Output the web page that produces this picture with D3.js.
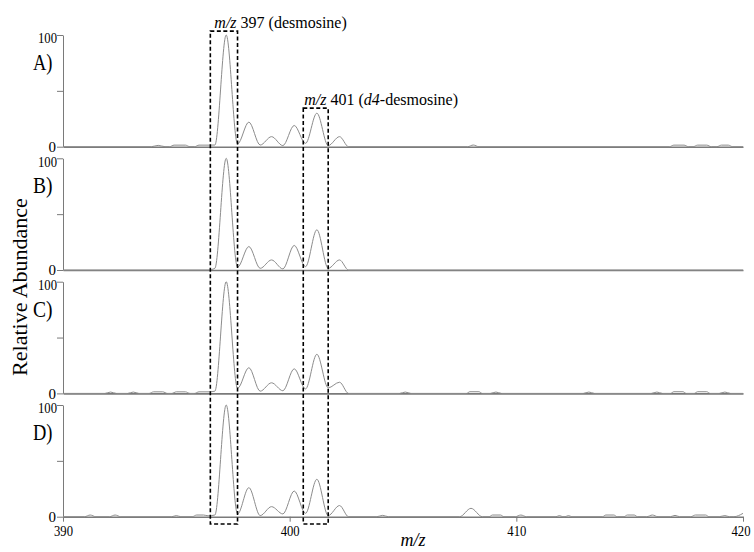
<!DOCTYPE html>
<html>
<head>
<meta charset="utf-8">
<script src="https://cdn.jsdelivr.net/npm/d3@7"></script>
<style>
  body { margin: 0; background: #fff; }
  svg text { font-family: "Liberation Serif", "Times New Roman", serif; }
</style>
</head>
<body>
<svg id="chart" width="754" height="552"></svg>
<script>
// m/z axis
const xDomain = [390, 420];
const xTicks = [390, 400, 410, 420];
const yTicks = [0, 50, 100];
const panelLabels = ["A)", "B)", "C)", "D)"];

// profile points [m/z, relative abundance]
const spectrumA = [
  [390, 0], [393.9, 0], [394.2, 1.2], [394.5, 0], [394.7, 0], [394.9, 1.4], [395.4, 1.4], [395.6, 0],
  [395.8, 0], [396.0, 1.4], [396.45, 1.4], [396.7, 1.5], [397.2, 100], [397.7, 2.5], [398.2, 22],
  [398.7, 1.5], [399.2, 9], [399.7, 1], [400.2, 19], [400.7, 3], [401.2, 30], [401.7, 1],
  [402.2, 9], [402.6, 0], [407.85, 0], [408.1, 1.5], [408.35, 0], [416.75, 0], [416.95, 1.4],
  [417.4, 1.4], [417.6, 0], [417.8, 0], [418.0, 1.4], [418.4, 1.4], [418.6, 0], [418.85, 0],
  [419.05, 1.4], [419.35, 1.4], [419.55, 0], [420, 0]
];
const spectrumB = [
  [390, 0], [396.4, 0], [396.7, 1.5], [397.2, 100], [397.7, 2.5], [398.2, 21], [398.7, 1.5],
  [399.2, 9], [399.7, 1], [400.2, 22], [400.7, 3], [401.2, 36], [401.7, 1.5], [402.2, 9],
  [402.6, 0], [420, 0]
];
const spectrumC = [
  [390, 0], [391.85, 0], [392.1, 1.2], [392.35, 0], [392.85, 0], [393.1, 1.2], [393.35, 0],
  [393.8, 0], [394.0, 1.4], [394.4, 1.4], [394.6, 0], [394.8, 0], [395.0, 1.4], [395.4, 1.4],
  [395.6, 0], [395.8, 0], [396.0, 1.4], [396.45, 1.4], [396.7, 2], [397.2, 100], [397.7, 4.5],
  [398.2, 23], [398.7, 2], [399.2, 9.5], [399.7, 2.4], [400.2, 22], [400.7, 4], [401.2, 35],
  [401.7, 5], [402.2, 10], [402.6, 0], [404.85, 0], [405.1, 1.2], [405.35, 0], [407.8, 0],
  [407.95, 1.5], [408.35, 1.5], [408.5, 0], [408.85, 0], [409.1, 1.2], [409.35, 0], [412.95, 0],
  [413.2, 1.2], [413.45, 0], [415.95, 0], [416.2, 1.2], [416.45, 0], [416.8, 0], [416.95, 1.5],
  [417.35, 1.5], [417.5, 0], [417.85, 0], [418.0, 1.5], [418.4, 1.5], [418.55, 0], [418.95, 0],
  [419.2, 1.2], [419.45, 0], [420, 0]
];
const spectrumD = [
  [390, 0], [390.95, 0], [391.2, 1.5], [391.45, 0], [392.05, 0], [392.3, 1.5], [392.55, 0],
  [394.8, 0], [395.0, 1], [395.2, 0], [395.7, 0], [395.9, 1.5], [396.2, 1.5], [396.4, 0.8],
  [396.7, 1.5], [397.2, 100], [397.7, 2.4], [398.2, 26], [398.7, 1], [399.2, 9], [399.7, 2.5],
  [400.2, 23], [400.7, 3], [401.2, 33.5], [401.7, 1], [402.2, 10], [402.6, 0], [403.85, 0],
  [404.1, 1.2], [404.35, 0], [407.5, 0], [408.0, 7.5], [408.5, 0], [408.8, 0], [408.95, 1.5],
  [409.3, 1.5], [409.45, 0], [409.95, 0], [410.2, 1.5], [410.45, 0], [411.75, 0], [411.9, 1],
  [412.05, 0], [412.15, 0], [412.3, 1], [412.45, 0], [413.8, 0], [413.95, 1.5], [414.3, 1.5],
  [414.45, 0], [414.75, 0], [414.9, 1.5], [415.2, 1.5], [415.35, 0], [415.75, 0], [416.0, 1.5],
  [416.25, 0], [416.8, 0], [417.0, 1.2], [417.2, 0], [417.7, 0], [417.9, 1.5], [418.35, 1.5],
  [418.5, 0], [418.95, 0], [419.2, 1], [419.4, 0], [419.6, 0], [420, 3]
];
const spectra = [spectrumA, spectrumB, spectrumC, spectrumD];

// dashed boxes round the two ions: m/z from / to, top in panel A abundance
const boxFrom = [396.5, 400.6];
const boxTo = [397.7, 401.7];
const boxTop = [103.5, 34.5];
const boxLabels = [
  { mz: "m/z", rest: " 397 (desmosine)" },
  { mz: "m/z", rest: " 401 (", it: "d4", tail: "-desmosine)" }
];

const svg = d3.select("#chart");
const left = 63, right = 743;
const panelTop = [35, 158.3, 281.7, 405];
const panelH = 111.7;
const serif = "'Liberation Serif', 'Times New Roman', serif";

const x = d3.scaleLinear().domain(xDomain).range([left, right]);

const lineColor = "#8c8c8c";
const axisColor = "#7a7a7a";

// the source figure's numbers are a little condensed
const squeeze = sel => sel.filter(d => String(d).length === 3)
  .attr("textLength", 19).attr("lengthAdjust", "spacingAndGlyphs");

const yScales = [];

spectra.forEach((data, i) => {
  const top = panelTop[i];
  const y = d3.scaleLinear().domain([0, 100]).range([top + panelH, top]);
  yScales.push(y);
  const g = svg.append("g");

  // y axis
  const yAxis = d3.axisLeft(y).tickValues(yTicks).tickSize(6).tickSizeOuter(0)
    .tickFormat(d => d === 50 ? "" : d);
  const ya = g.append("g").attr("transform", `translate(${left},0)`).call(yAxis)
    .attr("font-family", serif);
  ya.select(".domain").attr("stroke", axisColor);
  ya.selectAll(".tick line").attr("stroke", axisColor);
  ya.selectAll(".tick text").attr("font-size", 15).attr("fill", "#000")
    .attr("x", d => d === 0 ? -7 : -6)
    .attr("dy", d => d === 0 ? "0.33em" : "0.53em")
    .call(squeeze);

  // zero line (x axis), ticks only on the last panel
  const xAxis = d3.axisBottom(x).tickValues(i === 3 ? xTicks : []).tickSize(5).tickSizeOuter(0);
  const xa = g.append("g").attr("transform", `translate(0,${y(0)})`).call(xAxis)
    .attr("font-family", serif);
  xa.select(".domain").attr("stroke", axisColor).attr("stroke-width", 1.6);
  xa.selectAll(".tick line").attr("stroke", axisColor);
  xa.selectAll(".tick text").attr("font-size", 15).attr("fill", "#000")
    .attr("y", 9)
    .attr("x", d => d === xDomain[1] ? -2.5 : 0)
    .call(squeeze);

  // spectrum trace
  const line = d3.line().x(d => x(d[0])).y(d => y(d[1])).curve(d3.curveMonotoneX);
  g.append("path").datum(data)
    .attr("fill", "none")
    .attr("stroke", lineColor)
    .attr("stroke-width", 1)
    .attr("d", line);

  // panel letter
  g.append("text")
    .attr("x", 33).attr("y", top + 35)
    .attr("font-family", serif)
    .attr("font-size", 24)
    .attr("textLength", 19.5)
    .attr("lengthAdjust", "spacingAndGlyphs")
    .text(panelLabels[i]);
});

// dashed boxes
const yA = yScales[0], yD = yScales[3];
boxFrom.forEach((f, k) => {
  const x0 = x(f), x1 = x(boxTo[k]);
  const y0 = yA(boxTop[k]), y1 = yD(-6.5);
  svg.append("rect")
    .attr("x", x0).attr("y", y0)
    .attr("width", x1 - x0).attr("height", y1 - y0)
    .attr("fill", "none")
    .attr("stroke", "#000")
    .attr("stroke-width", 1.6)
    .attr("stroke-dasharray", "4,2.5");

  const t = svg.append("text")
    .attr("x", x0 + (k === 0 ? 4 : 1))
    .attr("y", y0 - 3.5)
    .attr("font-family", serif)
    .attr("font-size", 16);
  const b = boxLabels[k];
  t.append("tspan").attr("font-style", "italic").text(b.mz);
  t.append("tspan").text(b.rest);
  if (b.it) {
    t.append("tspan").attr("font-style", "italic").text(b.it);
    t.append("tspan").text(b.tail);
  }
});

// axis titles
svg.append("text")
  .attr("transform", "translate(27,287) rotate(-90)")
  .attr("text-anchor", "middle")
  .attr("font-family", serif)
  .attr("font-size", 22)
  .text("Relative Abundance");

svg.append("text")
  .attr("x", 413).attr("y", 546)
  .attr("text-anchor", "middle")
  .attr("font-family", serif)
  .attr("font-size", 18)
  .attr("font-style", "italic")
  .text("m/z");
</script>
</body>
</html>
